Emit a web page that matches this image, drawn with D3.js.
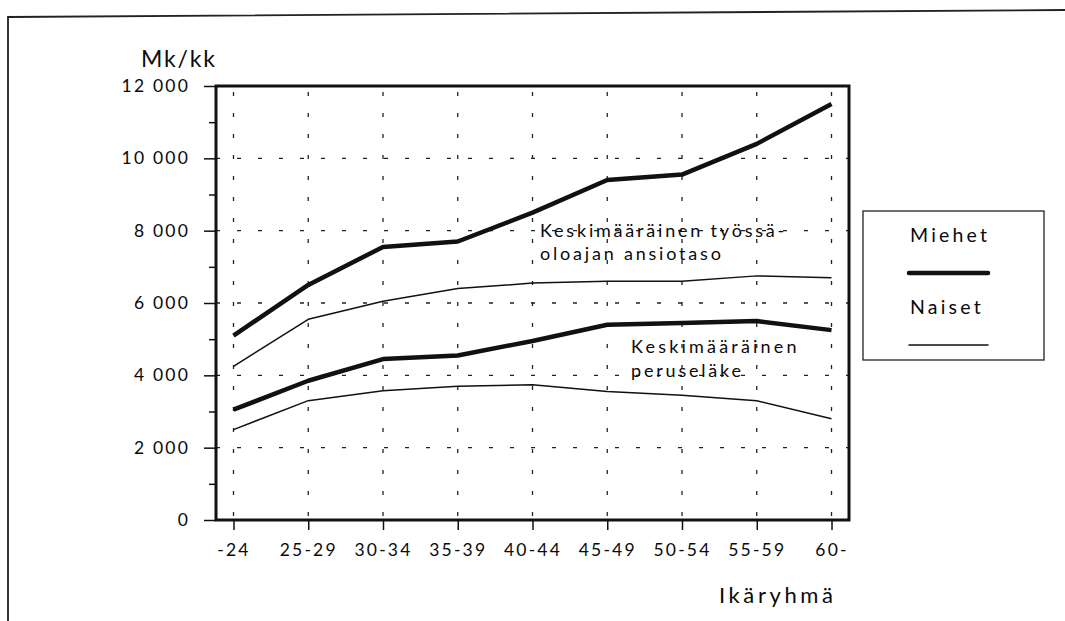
<!DOCTYPE html>
<html>
<head>
<meta charset="utf-8">
<script src="https://cdn.jsdelivr.net/npm/d3@7"></script>
<style>
  body { margin: 0; background: #fff; }
  text { font-family: Lato, "Open Sans", sans-serif; fill: #0a0a0a; }
  .grid line { stroke: #222; stroke-width: 1.3; stroke-dasharray: 4,17; }
  .axis path { display: none; }
  .axis line { stroke: #111; stroke-width: 1.5; }
  .axis text { font-size: 17.5px; letter-spacing: 2.2px; }
</style>
</head>
<body>
<div id="chart"></div>
<script>

var ageGroups = ["-24", "25-29", "30-34", "35-39", "40-44", "45-49", "50-54", "55-59", "60-"];

// Keskimääräinen työssäoloajan ansiotaso
var menEarnings   = [5100, 6500, 7550, 7700, 8500, 9400, 9550, 10400, 11500];
var womenEarnings = [4250, 5550, 6050, 6400, 6550, 6600, 6600, 6750, 6700];

// Keskimääräinen peruseläke
var menPension    = [3050, 3850, 4450, 4550, 4950, 5400, 5450, 5500, 5250];
var womenPension  = [2500, 3300, 3575, 3700, 3740, 3550, 3450, 3300, 2800];

var yMajorTicks = [0, 2000, 4000, 6000, 8000, 10000, 12000];
var yMinorTicks = [1000, 3000, 5000, 7000, 9000, 11000];

var legendItems = [["Miehet", 4.5], ["Naiset", 1.5]];

var width = 1065, height = 621;
var plot = {left: 216, top: 86, right: 849, bottom: 520};

var svg = d3.select("#chart").append("svg")
    .attr("width", width)
    .attr("height", height);

// outer frame of the scanned page
svg.append("path")
    .attr("d", "M8,621 L8,17 L1065,10")
    .attr("fill", "none")
    .attr("stroke", "#222")
    .attr("stroke-width", 1.8);

var x = d3.scalePoint()
    .domain(ageGroups)
    .range([plot.left, plot.right])
    .padding(0.234);

var y = d3.scaleLinear()
    .domain([0, 12000])
    .range([plot.bottom, plot.top]);

var fi = d3.formatLocale({decimal: ",", thousands: " ", grouping: [3], currency: ["", ""]});
var fmt = fi.format(",d");

// grid
var grid = svg.append("g").attr("class", "grid");
grid.selectAll(".h")
    .data(yMajorTicks.filter(function(v) { return v > 0 && v < 12000; }))
    .enter().append("line")
    .attr("x1", plot.left).attr("x2", plot.right)
    .attr("y1", function(d) { return y(d); })
    .attr("y2", function(d) { return y(d); });
grid.selectAll(".v")
    .data(ageGroups)
    .enter().append("line")
    .attr("x1", function(d) { return x(d); })
    .attr("x2", function(d) { return x(d); })
    .attr("y1", plot.top + 4).attr("y2", plot.bottom)
    .style("stroke-dashoffset", -2);

// axes
svg.append("g")
    .attr("class", "axis")
    .attr("transform", "translate(" + plot.left + ",0)")
    .call(d3.axisLeft(y).tickValues(yMajorTicks).tickSize(12).tickPadding(14).tickFormat(fmt));

svg.append("g")
    .attr("class", "axis")
    .attr("transform", "translate(" + plot.left + ",0)")
    .call(d3.axisLeft(y).tickValues(yMinorTicks).tickSize(7).tickFormat(""));

svg.append("g")
    .attr("class", "axis")
    .attr("transform", "translate(0," + plot.bottom + ")")
    .call(d3.axisBottom(x).tickSize(10).tickPadding(14))
    .selectAll("text").attr("dy", "0.71em");

// plot frame
svg.append("rect")
    .attr("x", plot.left).attr("y", plot.top)
    .attr("width", plot.right - plot.left)
    .attr("height", plot.bottom - plot.top)
    .attr("fill", "none")
    .attr("stroke", "#111")
    .attr("stroke-width", 3);

// lines
var line = d3.line()
    .x(function(d, i) { return x(ageGroups[i]); })
    .y(function(d) { return y(d); });

var series = [
    [menEarnings, 4.5],
    [womenEarnings, 1.5],
    [menPension, 4.5],
    [womenPension, 1.5]
];

svg.selectAll(".series")
    .data(series)
    .enter().append("path")
    .attr("class", "series")
    .attr("d", function(d) { return line(d[0]); })
    .attr("fill", "none")
    .attr("stroke", "#111")
    .attr("stroke-width", function(d) { return d[1]; })
    .attr("stroke-linejoin", "round");

// annotations
var ann = svg.append("g")
    .style("font-size", "18px")
    .style("letter-spacing", "2.8px");
ann.append("text").attr("x", 540).attr("y", 237).text("Keskimääräinen työssä-");
ann.append("text").attr("x", 540).attr("y", 260).text("oloajan ansiotaso");
ann.append("text").attr("x", 631).attr("y", 353).style("letter-spacing", "3.2px").text("Keskimääräinen");
ann.append("text").attr("x", 631).attr("y", 377).text("peruseläke");

// titles
svg.append("text")
    .attr("x", 141).attr("y", 67)
    .style("font-size", "23px")
    .style("letter-spacing", "1.8px")
    .text("Mk/kk");

svg.append("text")
    .attr("x", 719).attr("y", 603)
    .style("font-size", "22px")
    .style("letter-spacing", "3.6px")
    .text("Ikäryhmä");

// legend
var legend = svg.append("g");
legend.append("rect")
    .attr("x", 863).attr("y", 211)
    .attr("width", 181).attr("height", 149)
    .attr("fill", "#fff")
    .attr("stroke", "#222")
    .attr("stroke-width", 1.3);

var item = legend.selectAll(".item")
    .data(legendItems)
    .enter().append("g")
    .attr("class", "item")
    .attr("transform", function(d, i) { return "translate(0," + (i * 72) + ")"; });

item.append("text")
    .attr("x", 910).attr("y", 242)
    .style("font-size", "19.5px")
    .style("letter-spacing", "3.2px")
    .text(function(d) { return d[0]; });

item.append("line")
    .attr("x1", 909).attr("x2", 988)
    .attr("y1", 273).attr("y2", 273)
    .attr("stroke", "#111")
    .attr("stroke-linecap", "round")
    .attr("stroke-width", function(d) { return d[1]; });

</script>
</body>
</html>
